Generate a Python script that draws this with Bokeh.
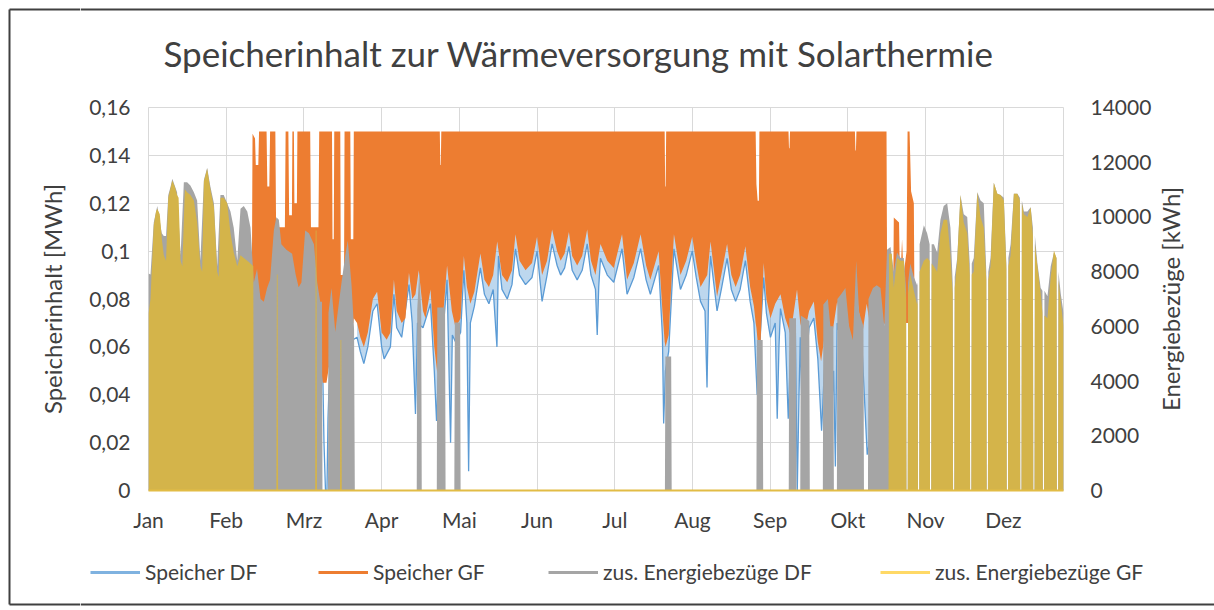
import math
from bokeh.plotting import figure
from bokeh.layouts import column, row
from bokeh.models import (Range1d, LinearAxis, FixedTicker, Legend, LegendItem, Label,
                          ColumnDataSource, CDSView, IndexFilter)
from bokeh.embed import file_html
from bokeh.resources import INLINE

# ---------------- data ----------------
title_text = "Speicherinhalt zur Wärmeversorgung mit Solarthermie"
left_axis_title = "Speicherinhalt [MWh]"
right_axis_title = "Energiebezüge [kWh]"
months = ["Jan", "Feb", "Mrz", "Apr", "Mai", "Jun", "Jul", "Aug", "Sep", "Okt", "Nov", "Dez"]
month_ticks = [0, 31, 62, 93, 124, 155, 186, 217, 248, 279, 310, 341]
left_ticks = [0, 0.02, 0.04, 0.06, 0.08, 0.1, 0.12, 0.14, 0.16]
left_tick_labels = ["0", "0,02", "0,04", "0,06", "0,08", "0,1", "0,12", "0,14", "0,16"]
right_ticks = [0, 2000, 4000, 6000, 8000, 10000, 12000, 14000]
right_tick_labels = ["0", "2000", "4000", "6000", "8000", "10000", "12000", "14000"]

# Speicher DF [MWh]: lower envelope (day of year, value)
speicher_df = [
    (60.0, 0.065), (68.5, 0.060), (69.4, 0.056), (70.0, 0.020), (70.6, 0.0), (71.2, 0.0), (71.6, 0.030), (72.5, 0.058),
    (80.0, 0.062), (83.2, 0.064), (84.5, 0.058), (85.9, 0.053), (87.5, 0.060), (89.5, 0.075), (91.2, 0.078), (93.0, 0.060),
    (94.0, 0.055), (96.5, 0.060), (97.9, 0.082), (99.0, 0.068), (101.0, 0.064), (103.9, 0.086), (105.2, 0.070), (106.5, 0.032),
    (107.3, 0.070), (109.5, 0.068), (112.5, 0.078), (114.0, 0.050), (114.9, 0.029), (115.5, 0.045), (117.0, 0.060), (119.1, 0.088),
    (120.5, 0.020), (121.2, 0.065), (122.5, 0.062), (124.5, 0.066), (125.8, 0.092), (127.0, 0.070), (127.7, 0.008), (128.4, 0.070),
    (130.0, 0.077), (132.4, 0.093), (134.0, 0.082), (135.8, 0.078), (137.5, 0.084), (139.0, 0.060), (139.6, 0.098), (141.0, 0.084),
    (143.1, 0.080), (145.0, 0.086), (146.4, 0.101), (148.0, 0.090), (150.4, 0.086), (153.0, 0.089), (155.0, 0.100), (157.0, 0.079),
    (159.0, 0.090), (161.0, 0.103), (163.0, 0.094), (164.4, 0.090), (166.0, 0.093), (167.7, 0.102), (169.0, 0.092), (171.0, 0.088),
    (173.0, 0.092), (175.0, 0.103), (176.5, 0.090), (178.3, 0.084), (179.0, 0.065), (179.6, 0.085), (180.3, 0.097), (183.0, 0.090),
    (185.6, 0.087), (188.9, 0.101), (190.9, 0.082), (193.6, 0.089), (196.3, 0.101), (198.5, 0.088), (200.2, 0.082), (203.5, 0.094),
    (205.0, 0.065), (205.5, 0.028), (206.2, 0.050), (207.5, 0.058), (209.6, 0.101), (212.2, 0.084), (214.5, 0.090), (216.9, 0.100),
    (218.5, 0.089), (220.2, 0.079), (222.0, 0.075), (222.8, 0.043), (223.4, 0.080), (224.2, 0.098), (226.8, 0.075), (228.5, 0.084),
    (230.8, 0.097), (232.5, 0.084), (234.2, 0.079), (236.0, 0.084), (238.1, 0.096), (240.0, 0.079), (241.5, 0.070), (242.8, 0.040),
    (243.5, 0.055), (245.4, 0.089), (246.5, 0.074), (248.1, 0.064), (250.0, 0.070), (250.8, 0.030), (251.5, 0.060), (252.1, 0.076),
    (254.0, 0.066), (255.2, 0.030), (256.1, 0.058), (258.0, 0.070), (258.8, 0.0), (259.5, 0.040), (260.0, 0.064), (261.4, 0.0),
    (262.0, 0.050), (263.5, 0.068), (265.4, 0.072), (267.0, 0.055), (268.5, 0.025), (269.5, 0.048), (270.7, 0.066), (272.5, 0.033),
    (273.3, 0.050), (274.0, 0.010), (274.7, 0.070), (277.0, 0.058), (279.3, 0.056), (281.0, 0.055), (282.7, 0.074), (284.7, 0.058),
    (286.7, 0.015), (287.5, 0.020), (288.2, 0.060), (289.3, 0.066), (290.7, 0.079), (292.7, 0.062), (294.5, 0.065),
]
# upper bound of the Speicher DF daily swing in summer (hidden under Speicher GF)
speicher_df_summer_max = 0.11
speicher_df_summer_start = 82

# Speicher GF [MWh]: (day, daily minimum, daily maximum)
speicher_gf = [
    (41.2, 0.080, 0.080), (41.5, 0.075, 0.149), (42.5, 0.075, 0.147), (42.8, 0.075, 0.136), (43.8, 0.070, 0.136),
    (44.1, 0.070, 0.150), (47.1, 0.070, 0.150), (47.4, 0.070, 0.127), (48.2, 0.070, 0.127), (48.5, 0.070, 0.150),
    (50.6, 0.070, 0.150), (50.9, 0.070, 0.110), (54.4, 0.075, 0.110), (54.7, 0.075, 0.150), (55.8, 0.075, 0.150),
    (56.1, 0.075, 0.115), (57.2, 0.075, 0.115), (57.4, 0.075, 0.150), (58.0, 0.075, 0.150), (58.2, 0.075, 0.120),
    (59.2, 0.070, 0.120), (59.4, 0.070, 0.150), (64.5, 0.065, 0.150), (64.8, 0.065, 0.110), (67.8, 0.060, 0.110),
    (68.1, 0.060, 0.150), (69.5, 0.045, 0.150), (71.0, 0.045, 0.150), (73.2, 0.060, 0.150), (73.4, 0.060, 0.105),
    (73.9, 0.060, 0.105), (74.1, 0.060, 0.150), (76.5, 0.065, 0.150), (76.7, 0.065, 0.090), (78.0, 0.065, 0.090),
    (78.2, 0.065, 0.150), (80.5, 0.070, 0.150), (80.7, 0.070, 0.105), (81.7, 0.070, 0.105), (81.9, 0.072, 0.150),
    (83.2, 0.070, 0.150), (84.5, 0.064, 0.150), (85.9, 0.060, 0.150), (87.5, 0.066, 0.150), (89.5, 0.080, 0.150),
    (91.2, 0.083, 0.150), (93.0, 0.066, 0.150), (95.0, 0.063, 0.150), (96.5, 0.066, 0.150), (97.9, 0.088, 0.150),
    (99.0, 0.075, 0.150), (101.0, 0.070, 0.150), (102.5, 0.072, 0.150), (103.9, 0.091, 0.150), (105.2, 0.080, 0.150),
    (106.5, 0.082, 0.150), (107.8, 0.092, 0.150), (109.5, 0.075, 0.150), (110.5, 0.072, 0.150), (112.5, 0.084, 0.150),
    (114.0, 0.060, 0.150), (115.2, 0.049, 0.150), (116.2, 0.058, 0.150), (116.4, 0.060, 0.136), (116.6, 0.062, 0.136),
    (116.8, 0.064, 0.150), (117.0, 0.066, 0.150), (119.1, 0.094, 0.150), (121.0, 0.075, 0.150), (122.5, 0.068, 0.150),
    (124.5, 0.072, 0.150), (125.8, 0.098, 0.150), (127.0, 0.085, 0.150), (128.4, 0.078, 0.150), (130.0, 0.083, 0.150),
    (132.4, 0.099, 0.150), (134.0, 0.088, 0.150), (135.8, 0.085, 0.150), (137.5, 0.090, 0.150), (139.1, 0.104, 0.150),
    (141.0, 0.090, 0.150), (143.1, 0.087, 0.150), (145.0, 0.092, 0.150), (146.4, 0.107, 0.150), (148.0, 0.096, 0.150),
    (150.4, 0.092, 0.150), (153.0, 0.095, 0.150), (155.0, 0.106, 0.150), (157.0, 0.090, 0.150), (159.0, 0.096, 0.150),
    (161.0, 0.109, 0.150), (163.0, 0.100, 0.150), (164.4, 0.096, 0.150), (166.0, 0.099, 0.150), (167.7, 0.108, 0.150),
    (169.0, 0.098, 0.150), (171.0, 0.094, 0.150), (173.0, 0.098, 0.150), (175.0, 0.109, 0.150), (176.5, 0.096, 0.150),
    (178.3, 0.090, 0.150), (180.3, 0.103, 0.150), (183.0, 0.096, 0.150), (185.6, 0.093, 0.150), (188.9, 0.107, 0.150),
    (190.9, 0.088, 0.150), (193.6, 0.095, 0.150), (196.3, 0.107, 0.150), (198.5, 0.094, 0.150), (200.2, 0.088, 0.150),
    (203.5, 0.100, 0.150), (205.0, 0.075, 0.150), (205.9, 0.062, 0.150), (206.1, 0.061, 0.127), (206.3, 0.060, 0.127),
    (206.5, 0.061, 0.150), (207.5, 0.065, 0.150), (209.6, 0.107, 0.150), (212.2, 0.090, 0.150), (214.5, 0.096, 0.150),
    (216.9, 0.106, 0.150), (218.5, 0.095, 0.150), (220.2, 0.085, 0.150), (222.9, 0.090, 0.150), (224.2, 0.104, 0.150),
    (226.8, 0.081, 0.150), (228.5, 0.090, 0.150), (230.8, 0.103, 0.150), (232.5, 0.090, 0.150), (234.2, 0.085, 0.150),
    (236.0, 0.090, 0.150), (238.1, 0.102, 0.150), (240.0, 0.085, 0.150), (241.5, 0.077, 0.150), (242.2, 0.070, 0.150),
    (242.5, 0.068, 0.128), (243.0, 0.062, 0.121), (243.5, 0.061, 0.121), (243.7, 0.061, 0.150), (244.1, 0.060, 0.150),
    (245.4, 0.095, 0.150), (246.5, 0.080, 0.150), (248.1, 0.072, 0.150), (250.0, 0.078, 0.150), (252.1, 0.082, 0.150),
    (254.0, 0.072, 0.150), (255.3, 0.068, 0.150), (255.5, 0.067, 0.143), (255.7, 0.066, 0.143), (255.9, 0.066, 0.150),
    (256.1, 0.065, 0.150), (258.7, 0.084, 0.150), (260.0, 0.070, 0.150), (261.4, 0.064, 0.150), (263.5, 0.075, 0.150),
    (265.4, 0.079, 0.150), (267.0, 0.062, 0.150), (268.3, 0.054, 0.150), (270.7, 0.072, 0.150), (272.7, 0.065, 0.150),
    (274.7, 0.079, 0.150), (277.0, 0.065, 0.150), (279.3, 0.063, 0.150), (281.0, 0.061, 0.150), (281.8, 0.070, 0.150),
    (282.0, 0.075, 0.142), (282.2, 0.078, 0.142), (282.4, 0.080, 0.150), (282.7, 0.080, 0.150), (284.7, 0.065, 0.150),
    (286.5, 0.078, 0.150), (288.0, 0.068, 0.150), (289.3, 0.072, 0.150), (290.7, 0.085, 0.150), (292.7, 0.068, 0.150),
    (294.4, 0.071, 0.150), (294.7, 0.071, 0.071), (297.0, 0.070, 0.070), (297.3, 0.070, 0.114), (299.4, 0.070, 0.112),
    (299.8, 0.070, 0.085), (300.6, 0.070, 0.105), (301.2, 0.070, 0.090), (302.4, 0.070, 0.100), (302.8, 0.070, 0.150),
    (303.6, 0.070, 0.150), (304.2, 0.070, 0.125), (305.3, 0.070, 0.120), (305.6, 0.070, 0.070),
]

# zus. Energiebezüge DF [kWh]: (day, daily maximum)
energie_df = [
    (0.0, 7930), (0.8, 7900), (2.1, 9800), (3.5, 10400), (5.3, 9400), (6.1, 9300), (7.0, 9300), (7.9, 10800),
    (8.8, 11100), (9.5, 11400), (11.4, 10900), (12.8, 8600), (14.1, 11270), (15.4, 11270), (16.7, 11150), (18.1, 10900),
    (19.4, 10600), (20.7, 8400), (22.1, 11350), (23.4, 11800), (24.7, 11100), (26.1, 10500), (27.4, 8200), (28.7, 10800),
    (30.0, 10800), (31.4, 10500), (32.7, 10200), (34.0, 9600), (35.4, 8400), (36.7, 10300), (38.0, 10400), (39.4, 10200),
    (40.7, 9600), (42.0, 7600), (43.3, 8100), (44.7, 7000), (46.0, 6900), (47.3, 7400), (48.5, 7700), (50.0, 9500),
    (51.0, 9990), (52.0, 9900), (53.0, 9000), (55.0, 8800), (57.3, 8650), (58.7, 7900), (59.9, 7430), (61.0, 7600),
    (62.5, 9500), (64.0, 9400), (66.0, 9000), (67.3, 7600), (68.5, 6900), (69.2, 6900), (69.4, 0), (71.6, 0),
    (71.8, 6500), (73.0, 7400), (74.5, 5800), (76.0, 6900), (77.0, 7600), (78.5, 8600), (79.5, 9140), (81.0, 7500),
    (82.0, 5900), (82.3, 0),
    (107.0, 0), (107.2, 6600), (108.0, 8000), (108.8, 6600), (109.0, 0),
    (115.0, 0), (115.2, 6690), (118.3, 6690), (118.5, 0),
    (122.0, 0), (122.2, 6140), (124.3, 6140), (124.5, 0),
    (206.0, 0), (206.2, 4900), (208.5, 4900), (208.7, 0),
    (242.5, 0), (242.7, 5500), (245.0, 5500), (245.2, 0),
    (255.4, 0), (255.6, 6300), (258.3, 6300), (258.5, 0),
    (260.0, 0), (260.2, 6400), (263.6, 6200), (263.8, 0),
    (269.0, 0), (269.2, 6800), (271.0, 7000), (272.0, 6000), (273.2, 6000), (273.4, 0),
    (274.6, 0), (274.8, 7000), (276.5, 7200), (278.0, 7400), (279.5, 6000), (281.0, 5500), (282.3, 8400), (283.5, 6500),
    (285.2, 6000), (285.4, 0),
    (287.0, 0), (287.2, 7000), (289.0, 7400), (290.5, 7500), (292.0, 7400), (293.5, 6000), (294.6, 8800), (296.0, 8900),
    (297.3, 8000), (298.6, 8700), (300.0, 8500), (301.3, 8500), (302.2, 7400), (302.35, 0), (302.85, 0), (303.0, 7600),
    (303.9, 8300), (305.3, 7800), (306.6, 7500), (306.8, 7600), (306.95, 0), (307.45, 0), (307.6, 9000), (309.3, 9700),
    (310.6, 9400), (311.6, 9000), (311.75, 0), (312.25, 0), (312.4, 9000), (313.3, 9000), (314.6, 8700), (315.9, 9900),
    (317.2, 10400), (318.6, 10500), (319.9, 9600), (320.8, 7600), (320.95, 0), (321.45, 0), (321.6, 7800), (322.6, 8500),
    (323.9, 10800), (325.2, 10100), (326.6, 10000), (327.6, 8300), (327.75, 0), (328.25, 0), (328.4, 8300), (329.2, 8500),
    (330.6, 10900), (331.9, 10600), (333.2, 10500), (334.2, 8000), (334.35, 0), (334.85, 0), (335.0, 8000), (335.9, 8500),
    (337.2, 11250), (338.6, 10850), (339.9, 10800), (341.2, 10700), (342.2, 8300), (342.35, 0), (342.85, 0), (343.0, 8500),
    (343.9, 9000), (345.2, 10850), (346.6, 10850), (347.6, 10700), (347.75, 0), (348.25, 0), (348.4, 10600), (349.2, 10200),
    (350.6, 10200), (351.9, 10350), (352.8, 9600), (352.95, 0), (353.45, 0), (353.6, 9300), (354.6, 8300), (355.9, 7400),
    (356.6, 7300), (356.75, 0), (357.25, 0), (357.4, 7300), (358.6, 7100), (359.9, 8200), (361.2, 8700), (362.2, 8500),
    (362.35, 0), (362.85, 0), (363.0, 8000), (363.9, 7200), (365.0, 6500),
]

# zus. Energiebezüge GF [kWh]: (day, daily maximum)
energie_gf = [
    (0.0, 6460), (0.8, 7000), (2.1, 9700), (3.0, 10200), (3.5, 10300), (4.5, 10100), (5.3, 9200), (6.1, 8600),
    (7.0, 8400), (7.9, 10700), (9.5, 11330), (10.5, 11100), (11.4, 10800), (12.0, 10700), (12.8, 8400), (13.5, 8200),
    (14.5, 11000), (15.4, 10900), (16.7, 10800), (18.1, 10600), (19.4, 9800), (20.7, 8200), (21.4, 8000), (22.1, 11300),
    (23.4, 11760), (24.7, 11000), (26.1, 10350), (27.4, 8000), (28.0, 7800), (28.7, 10700), (30.0, 10700), (31.4, 10500),
    (32.7, 9400), (34.0, 8700), (35.4, 8200), (36.7, 8600), (38.0, 8500), (39.4, 8400), (40.7, 8300), (41.8, 8200),
    (42.0, 0), (51.0, 0), (51.2, 7900), (51.5, 7900), (51.7, 0), (66.5, 0), (66.7, 9500), (67.0, 9500),
    (67.2, 0), (76.4, 0), (76.6, 5500), (76.9, 5500), (77.1, 0), (295.2, 0), (295.4, 8650), (296.5, 8650),
    (297.3, 7400), (298.6, 8500), (300.0, 8400), (301.3, 8400), (302.2, 7000), (302.35, 0), (302.85, 0), (303.0, 7200),
    (303.9, 7900), (305.3, 7300), (306.6, 6800), (306.8, 7000), (306.95, 0), (307.45, 0), (307.6, 8000), (309.3, 8400),
    (310.6, 8500), (311.6, 8400), (311.75, 0), (312.25, 0), (312.4, 8300), (313.3, 8200), (314.6, 8000), (315.9, 9400),
    (317.2, 9900), (318.6, 9900), (319.9, 8600), (320.8, 7200), (320.95, 0), (321.45, 0), (321.6, 7400), (322.6, 8400),
    (323.9, 10800), (325.2, 9800), (326.6, 9400), (327.6, 7900), (327.75, 0), (328.25, 0), (328.4, 7900), (329.2, 8000),
    (330.6, 10900), (331.9, 10000), (333.2, 9600), (334.2, 7700), (334.35, 0), (334.85, 0), (335.0, 7700), (335.9, 8200),
    (337.2, 11250), (338.6, 10850), (339.9, 10800), (341.2, 10600), (342.2, 8100), (342.35, 0), (342.85, 0), (343.0, 8200),
    (343.9, 8600), (345.2, 10850), (346.6, 10850), (347.6, 10600), (347.75, 0), (348.25, 0), (348.4, 10500), (349.2, 10100),
    (350.6, 10000), (351.9, 10350), (352.8, 9300), (352.95, 0), (353.45, 0), (353.6, 9000), (354.6, 8200), (355.9, 7200),
    (356.6, 6500), (356.75, 0), (357.25, 0), (357.4, 6400), (358.6, 6300), (359.9, 7800), (361.2, 8770), (362.2, 8500),
    (362.35, 0), (362.85, 0), (363.0, 7700), (363.9, 6900), (365.0, 6000),
]

series_names = ["Speicher DF", "Speicher GF", "zus. Energiebezüge DF", "zus. Energiebezüge GF"]

# ---------------- styling ----------------
FONT = "Lato"
TXT = "#404040"
C_BLUE = "#5B9BD5"
C_ORANGE = "#ED7D31"
C_GRAY = "#A5A5A5"
C_GOLD = "#D4B44A"
C_YELLOW_LEG = "#FFD966"
C_FRAME = "#404040"

df_s_day, df_s_min = map(list, zip(*speicher_df))
gf_s_day, gf_s_min, gf_s_max = map(list, zip(*speicher_gf))
df_e_day, df_e_max = map(list, zip(*energie_df))
gf_e_day, gf_e_max = map(list, zip(*energie_gf))

# page geometry (pixels)
TOTAL_W, TOTAL_H = 1214, 610
LEFT_W = 80                       # left strip: outer border + left axis title
INNER_W = TOTAL_W - LEFT_W
TOP_H = 95                        # title strip
LEG_H = 72                        # legend strip
MID_H = TOTAL_H - TOP_H - LEG_H
MAIN_W = 1075
RIGHT_W = INNER_W - MAIN_W
FRAME_TOP, FRAME_BOTTOM = 107, 490
FRAME_MID = (FRAME_TOP + FRAME_BOTTOM) / 2
BORDER_X, BORDER_TOP, BORDER_BOTTOM = 9, 9, 604

p = figure(
    frame_width=915, frame_height=383, title=None,
    x_range=Range1d(0, 365), y_range=Range1d(0, 0.16),
    output_backend="svg", toolbar_location=None,
    min_border_left=148 - LEFT_W, min_border_right=92, min_border_top=FRAME_TOP - TOP_H, min_border_bottom=48,
    background_fill_color="white", border_fill_color="white",
)
p.extra_y_ranges = {"kwh": Range1d(0, 14000)}
p.outline_line_color = "#D9D9D9"

# x axis
xa = p.xaxis[0]
xa.ticker = FixedTicker(ticks=month_ticks)
xa.major_label_overrides = {t: m for t, m in zip(month_ticks, months)}
xa.axis_line_color = "#E2BC45"
xa.axis_line_width = 2
xa.major_tick_line_color = None
xa.minor_tick_line_color = None
xa.major_tick_out = 0
xa.major_label_standoff = 16
xa.major_label_text_font = FONT
xa.major_label_text_font_size = "21px"
xa.major_label_text_color = TXT

# left axis
ya = p.yaxis[0]
ya.ticker = FixedTicker(ticks=left_ticks)
ya.major_label_overrides = {t: s for t, s in zip(left_ticks, left_tick_labels)}
ya.axis_line_color = None
ya.major_tick_line_color = None
ya.minor_tick_line_color = None
ya.major_tick_out = 0
ya.major_label_standoff = 18
ya.major_label_text_font = FONT
ya.major_label_text_font_size = "21px"
ya.major_label_text_color = TXT

# right axis
ra = LinearAxis(y_range_name="kwh", ticker=FixedTicker(ticks=right_ticks))
ra.major_label_overrides = {t: s for t, s in zip(right_ticks, right_tick_labels)}
ra.axis_line_color = None
ra.major_tick_line_color = None
ra.minor_tick_line_color = None
ra.major_tick_out = 0
ra.major_label_standoff = 27
ra.major_label_text_font = FONT
ra.major_label_text_font_size = "21px"
ra.major_label_text_color = TXT
p.add_layout(ra, "right")

# grid
p.xgrid.grid_line_color = "#D9D9D9"
p.ygrid.grid_line_color = "#D9D9D9"

# ---------------- series ----------------
df_src = ColumnDataSource(dict(day=df_s_day, lo=df_s_min))
summer_idx = [i for i, d in enumerate(df_s_day) if d >= speicher_df_summer_start]
p.varea(x="day", y1="lo", y2=speicher_df_summer_max, source=df_src,
        view=CDSView(filter=IndexFilter(indices=summer_idx)), fill_color=C_BLUE, fill_alpha=0.4)
p.line(x="day", y="lo", source=df_src, color=C_BLUE, line_width=1.3)
p.varea(x=gf_s_day, y1=gf_s_min, y2=gf_s_max, fill_color=C_ORANGE)
p.varea(x=df_e_day, y1=[0] * len(df_e_day), y2=df_e_max, fill_color=C_GRAY, y_range_name="kwh")
p.varea(x=gf_e_day, y1=[0] * len(gf_e_day), y2=gf_e_max, fill_color=C_GOLD, y_range_name="kwh")


def blank(w, h, top=0, bottom=0):
    f = figure(
        width=w, height=h, title=None, x_range=Range1d(0, w), y_range=Range1d(0, h - top - bottom),
        output_backend="svg", toolbar_location=None,
        x_axis_location=None, y_axis_location=None,
        min_border=0, min_border_left=0, min_border_right=0, min_border_top=top, min_border_bottom=bottom,
        background_fill_color="white", border_fill_color="white",
    )
    f.outline_line_color = None
    f.grid.visible = False
    return f


# left strip (full page height): outer border and left axis title
ls = blank(LEFT_W, TOTAL_H)
ls.add_layout(Label(
    x=52, y=TOTAL_H - FRAME_MID, text=left_axis_title, angle=math.pi / 2,
    text_align="center", text_baseline="middle",
    text_font=FONT, text_font_size="24px", text_color=TXT,
))
ls.segment(
    x0=[BORDER_X, BORDER_X, BORDER_X], y0=[TOTAL_H - BORDER_TOP, TOTAL_H - BORDER_TOP, TOTAL_H - BORDER_BOTTOM],
    x1=[BORDER_X, LEFT_W, LEFT_W], y1=[TOTAL_H - BORDER_BOTTOM, TOTAL_H - BORDER_TOP, TOTAL_H - BORDER_BOTTOM],
    line_color=C_FRAME, line_width=2,
)

# title strip
tp = blank(INNER_W, TOP_H)
tp.add_layout(Label(
    x=163 - LEFT_W, y=TOP_H - 52, text=title_text, text_align="left", text_baseline="middle",
    text_font=FONT, text_font_size="35px", text_color=TXT,
))
tp.segment(x0=[0], y0=[TOP_H - BORDER_TOP], x1=[INNER_W], y1=[TOP_H - BORDER_TOP], line_color=C_FRAME, line_width=2)

# right strip: right axis title (frame aligned with the chart frame)
rp = blank(RIGHT_W, MID_H, top=FRAME_TOP - TOP_H, bottom=48)
rp.add_layout(Label(
    x=1170 - LEFT_W - MAIN_W, y=FRAME_BOTTOM - FRAME_MID, text=right_axis_title, angle=math.pi / 2,
    text_align="center", text_baseline="middle",
    text_font=FONT, text_font_size="24px", text_color=TXT,
))

# legend strip
lp = blank(INNER_W, LEG_H)
leg_colors = ["#7FB2E0", C_ORANGE, C_GRAY, C_YELLOW_LEG]
leg_x = [90, 318, 548, 880]
for name, col, lx in zip(series_names, leg_colors, leg_x):
    r = lp.line(x=[-100, -90], y=[-100, -100], color=col, line_width=3)
    lg = Legend(
        items=[LegendItem(label=name, renderers=[r])], location=(lx - LEFT_W, 26),
        glyph_width=50, glyph_height=20, label_standoff=5,
        label_text_font=FONT, label_text_font_size="21px", label_text_color=TXT,
        border_line_color=None, background_fill_alpha=0, margin=0, padding=0,
    )
    lp.add_layout(lg, "center")
lp.segment(x0=[0], y0=[TOTAL_H - BORDER_BOTTOM], x1=[INNER_W], y1=[TOTAL_H - BORDER_BOTTOM],
           line_color=C_FRAME, line_width=2)

page = row(ls, column(tp, row(p, rp), lp))
open("out.html", "w").write(file_html(page, INLINE))
